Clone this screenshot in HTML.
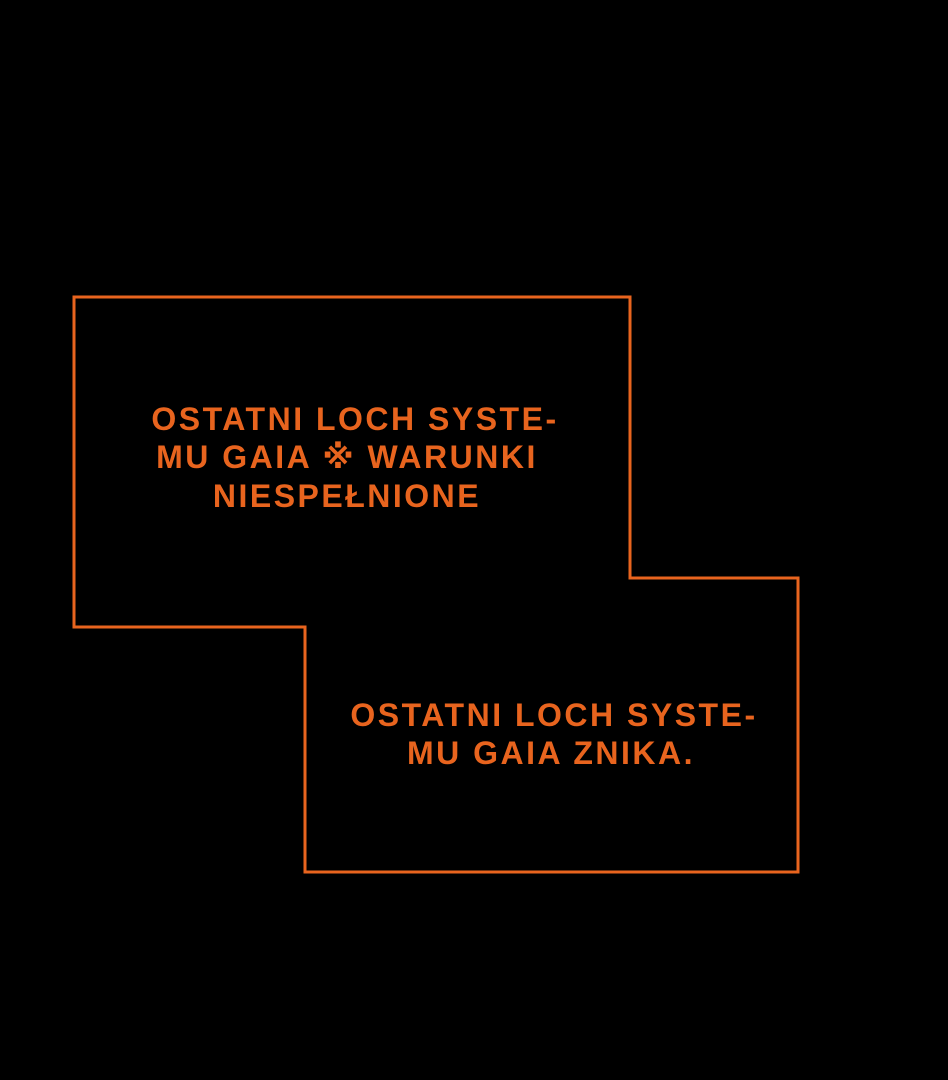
<!DOCTYPE html>
<html><head><meta charset="utf-8"><style>
html,body{margin:0;padding:0;background:#000;}
body{width:948px;height:1080px;position:relative;overflow:hidden;}
.l{position:absolute;white-space:nowrap;text-align:center;color:#e8641e;font-family:"Liberation Sans","DejaVu Sans",sans-serif;font-weight:bold;font-size:32px;line-height:32px;letter-spacing:2.5px;width:600px;}
</style></head><body>
<svg width="948" height="1080" style="position:absolute;left:0;top:0">
<polygon points="74,297 630,297 630,578 798,578 798,872 305,872 305,627 74,627" fill="none" stroke="#e8641e" stroke-width="3"/>
</svg>
<div class="l" style="left:55px;top:403px">OSTATNI LOCH SYSTE-</div>
<div class="l" style="left:47px;top:441px">MU GAIA ※ WARUNKI</div>
<div class="l" style="left:47px;top:480px">NIESPEŁNIONE</div>
<div class="l" style="left:254px;top:699px">OSTATNI LOCH SYSTE-</div>
<div class="l" style="left:251px;top:737px">MU GAIA ZNIKA.</div>
</body></html>
